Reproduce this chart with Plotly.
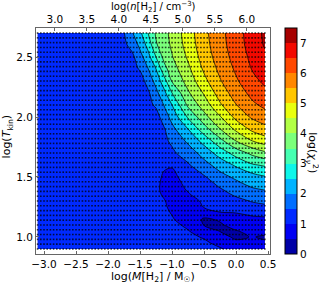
import numpy as np
import plotly.graph_objects as go

# ---------------- data ----------------
mass_log = [-3.1, -2.5, -2.0, -1.75, -1.625, -1.5, -1.375, -1.25, -1.125, -1.0,
            -0.75, -0.5, -0.25, 0.0, 0.25, 0.45]
tkin_log = [0.9, 0.95, 1.0, 1.05, 1.1, 1.15, 1.2, 1.25, 1.3, 1.35, 1.4, 1.5, 1.6, 1.7,
            1.8, 1.9, 2.0, 2.1, 2.2, 2.3, 2.4, 2.5, 2.6, 2.7]

chi_t090 = [1.26, 1.26, 1.27, 1.27, 1.27, 1.28, 1.28, 1.29, 1.28, 1.28, 1.25, 1.20, 1.05, 0.80, 0.72, 0.70]
chi_t095 = [1.26, 1.27, 1.27, 1.27, 1.28, 1.28, 1.28, 1.27, 1.25, 1.25, 1.20, 1.10, 0.85, 0.60, 0.58, 0.55]
chi_t100 = [1.26, 1.27, 1.27, 1.28, 1.28, 1.28, 1.28, 1.25, 1.21, 1.20, 1.12, 0.95, 0.65, 0.42, 0.52, 0.45]
chi_t105 = [1.26, 1.27, 1.27, 1.28, 1.28, 1.28, 1.28, 1.22, 1.17, 1.15, 1.02, 0.75, 0.48, 0.48, 0.60, 0.62]
chi_t110 = [1.27, 1.27, 1.28, 1.28, 1.28, 1.28, 1.28, 1.20, 1.14, 1.10, 0.92, 0.48, 0.45, 0.65, 0.72, 0.75]
chi_t115 = [1.27, 1.27, 1.28, 1.28, 1.28, 1.29, 1.28, 1.18, 1.10, 1.03, 0.80, 0.45, 0.55, 0.82, 0.90, 0.92]
chi_t120 = [1.27, 1.27, 1.28, 1.28, 1.29, 1.29, 1.28, 1.16, 1.07, 0.98, 0.70, 0.75, 0.98, 1.00, 1.10, 1.15]
chi_t125 = [1.27, 1.28, 1.28, 1.29, 1.29, 1.29, 1.28, 1.14, 1.05, 0.92, 0.62, 1.03, 1.12, 1.20, 1.35, 1.40]
chi_t130 = [1.27, 1.28, 1.29, 1.29, 1.30, 1.30, 1.28, 1.12, 1.03, 0.85, 0.70, 1.12, 1.25, 1.38, 1.53, 1.62]
chi_t135 = [1.27, 1.28, 1.29, 1.30, 1.30, 1.30, 1.28, 1.10, 0.95, 0.80, 0.95, 1.20, 1.35, 1.55, 1.75, 1.83]
chi_t140 = [1.27, 1.28, 1.29, 1.30, 1.30, 1.31, 1.28, 1.08, 0.90, 0.78, 1.05, 1.30, 1.47, 1.71, 1.96, 2.04]
chi_t150 = [1.27, 1.28, 1.30, 1.31, 1.31, 1.32, 1.30, 1.06, 0.97, 0.85, 1.25, 1.45, 1.82, 2.10, 2.30, 2.46]
chi_t160 = [1.27, 1.29, 1.30, 1.31, 1.32, 1.33, 1.33, 1.10, 1.03, 1.05, 1.45, 1.82, 2.22, 2.57, 2.94, 3.07]
chi_t170 = [1.27, 1.29, 1.31, 1.32, 1.33, 1.34, 1.36, 1.37, 1.38, 1.42, 1.72, 2.21, 2.71, 3.21, 3.63, 3.90]
chi_t180 = [1.28, 1.29, 1.31, 1.33, 1.35, 1.36, 1.38, 1.40, 1.42, 1.57, 2.10, 2.67, 3.34, 4.00, 4.49, 4.75]
chi_t190 = [1.28, 1.30, 1.32, 1.34, 1.36, 1.38, 1.39, 1.40, 1.45, 1.86, 2.50, 3.29, 3.99, 4.61, 5.12, 5.35]
chi_t200 = [1.28, 1.30, 1.32, 1.34, 1.36, 1.38, 1.38, 1.30, 1.73, 2.17, 3.06, 3.83, 4.46, 5.14, 5.57, 5.77]
chi_t210 = [1.28, 1.30, 1.32, 1.35, 1.36, 1.38, 1.38, 1.57, 2.02, 2.50, 3.60, 4.23, 4.93, 5.48, 5.90, 6.11]
chi_t220 = [1.28, 1.30, 1.33, 1.36, 1.36, 1.36, 1.41, 1.86, 2.35, 3.00, 3.93, 4.55, 5.23, 5.73, 6.14, 6.39]
chi_t230 = [1.28, 1.30, 1.33, 1.37, 1.36, 1.25, 1.70, 2.17, 2.78, 3.55, 4.19, 4.86, 5.46, 5.93, 6.37, 6.59]
chi_t240 = [1.28, 1.30, 1.33, 1.37, 1.36, 1.54, 1.98, 2.50, 3.32, 3.77, 4.39, 5.08, 5.62, 6.08, 6.52, 6.75]
chi_t250 = [1.28, 1.30, 1.34, 1.38, 1.37, 1.82, 2.31, 3.00, 3.64, 3.97, 4.57, 5.23, 5.74, 6.19, 6.62, 6.90]
chi_t260 = [1.28, 1.30, 1.34, 1.40, 1.66, 2.12, 2.66, 3.44, 3.78, 4.08, 4.70, 5.32, 5.81, 6.27, 6.70, 7.05]
chi_t270 = [1.28, 1.30, 1.34, 1.48, 1.95, 2.39, 3.00, 3.57, 3.85, 4.14, 4.76, 5.37, 5.85, 6.30, 6.73, 7.10]

# model grid points (dots)
grid_mass_start, grid_mass_step, grid_mass_n = -3.1, 0.05, 72
grid_tkin_start, grid_tkin_step, grid_tkin_n = 0.9, 0.04, 46

# contour levels
level_start, level_end, level_step = 0.5, 7.0, 0.5
cbar_min, cbar_max = 0.0, 7.5
cbar_ticks = [0, 1, 2, 3, 4, 5, 6, 7]

# axes ticks
mass_ticks = [-3.0, -2.5, -2.0, -1.5, -1.0, -0.5, 0.0, 0.5]
tkin_ticks = [1.0, 1.5, 2.0, 2.5]
dens_ticks = [3.0, 3.5, 4.0, 4.5, 5.0, 5.5, 6.0]
dens_offset = 5.83   # log n - log M

# ---------------- figure ----------------
chi_rows = [chi_t090, chi_t095, chi_t100, chi_t105, chi_t110, chi_t115, chi_t120, chi_t125,
            chi_t130, chi_t135, chi_t140, chi_t150, chi_t160, chi_t170, chi_t180, chi_t190,
            chi_t200, chi_t210, chi_t220, chi_t230, chi_t240, chi_t250, chi_t260, chi_t270]
z = np.array(chi_rows)

jet_bands = ["rgb(0,0,166)", "rgb(0,0,243)", "rgb(0,42,255)", "rgb(0,110,255)", "rgb(0,179,255)",
             "rgb(14,246,233)", "rgb(69,255,178)", "rgb(123,255,123)", "rgb(178,255,69)",
             "rgb(233,255,14)", "rgb(255,198,0)", "rgb(255,135,0)", "rgb(255,72,0)",
             "rgb(243,9,0)", "rgb(166,0,0)"]
n = len(jet_bands)
colorscale = [[i / (n - 1), c] for i, c in enumerate(jet_bands)]

def fmt(v):
    s = f"{abs(v):.1f}"
    return ("\u2212" + s) if v < 0 else s

fig = go.Figure()
fig.add_trace(go.Contour(
    x=mass_log, y=tkin_log, z=z,
    colorscale=colorscale, zauto=False, zmin=cbar_min, zmax=cbar_max,
    contours=dict(start=level_start, end=level_end, size=level_step,
                  coloring="fill", showlines=False),
    line=dict(smoothing=1, width=0),
    colorbar=dict(x=1.064, xanchor="left", xpad=0, thickness=12, len=1.0, lenmode="fraction",
                  y=0.5, yanchor="middle", ypad=0,
                  outlinewidth=1, outlinecolor="black",
                  tickvals=cbar_ticks, ticktext=[str(t) for t in cbar_ticks],
                  ticks="", tickfont=dict(family="DejaVu Sans", size=10.5, color="black")),
    hoverinfo="skip",
))
fig.add_trace(go.Contour(
    x=mass_log, y=tkin_log, z=z,
    contours=dict(start=level_start, end=level_end, size=level_step, coloring="none"),
    line=dict(color="black", width=0.7, smoothing=1),
    showscale=False, hoverinfo="skip",
))

gm = grid_mass_start + grid_mass_step * np.arange(grid_mass_n)
gt = grid_tkin_start + grid_tkin_step * np.arange(grid_tkin_n)
GX, GY = np.meshgrid(gm, gt)
fig.add_trace(go.Scatter(
    x=GX.ravel(), y=GY.ravel(), mode="markers",
    marker=dict(symbol="square", size=1.6, color="rgba(0,0,0,0.75)", line=dict(width=0)),
    hoverinfo="skip", showlegend=False,
))
# helper trace so the top axis is drawn
fig.add_trace(go.Scatter(x=dens_ticks, y=[None] * len(dens_ticks), xaxis="x2", mode="lines",
                         showlegend=False, hoverinfo="skip"))

xr = [-3.125, 0.53]
axis_font = dict(family="DejaVu Sans", size=10.5, color="black")
fig.update_layout(
    width=319, height=283,
    margin=dict(l=36, r=49, t=28, b=29, autoexpand=False),
    paper_bgcolor="white", plot_bgcolor="white",
    showlegend=False,
    xaxis=dict(range=xr, tickvals=mass_ticks, ticktext=[fmt(v) for v in mass_ticks],
               showgrid=False, zeroline=False, showline=True, linecolor="#666", linewidth=1,
               ticks="inside", ticklen=3, tickcolor="#666", tickfont=axis_font, automargin=False),
    xaxis2=dict(range=[xr[0] + dens_offset, xr[1] + dens_offset], overlaying="x", side="top",
                tickvals=dens_ticks, ticktext=[fmt(v) for v in dens_ticks],
                showgrid=False, zeroline=False, showline=True, linecolor="#666", linewidth=1,
                ticks="inside", ticklen=3, tickcolor="#666", tickfont=axis_font, automargin=False),
    yaxis=dict(range=[0.858, 2.742], tickvals=tkin_ticks, ticktext=[fmt(v) for v in tkin_ticks],
               showgrid=False, zeroline=False, showline=True, mirror=True, linecolor="#666",
               linewidth=1, ticks="inside", ticklen=3, tickcolor="#666", tickfont=axis_font,
               automargin=False),
    font=dict(family="DejaVu Sans", color="black"),
)

title_font = dict(family="DejaVu Sans", size=11, color="black")
fig.add_annotation(text="log(<i>M</i>[H<sub>2</sub>] / M<sub>\u2609</sub>)", xref="paper", yref="paper",
                   x=0.5, y=-0.1, xanchor="center", yanchor="middle", showarrow=False,
                   borderpad=0, font=title_font)
fig.add_annotation(text="log(<i>n</i>[H<sub>2</sub>] / cm<sup>\u22123</sup>)", xref="paper", yref="paper",
                   x=0.5, y=1.093, xanchor="center", yanchor="middle", showarrow=False,
                   borderpad=0, font=dict(family="DejaVu Sans", size=10, color="black"))
fig.add_annotation(text="log(<i>T</i><sub>kin</sub>)", xref="paper", yref="paper",
                   x=-0.12, y=0.52, xanchor="center", yanchor="middle", textangle=-90,
                   showarrow=False, font=title_font)
fig.add_annotation(text="log(<i>\u03c7</i><sub><i>\u03bd</i></sub><sup>2</sup>)", xref="paper", yref="paper",
                   x=1.18, y=0.45, xanchor="center", yanchor="middle", textangle=90,
                   showarrow=False, font=title_font)

fig.write_html("out.html", config={"displayModeBar": False},
               post_script="document.body.style.margin='0px';")
